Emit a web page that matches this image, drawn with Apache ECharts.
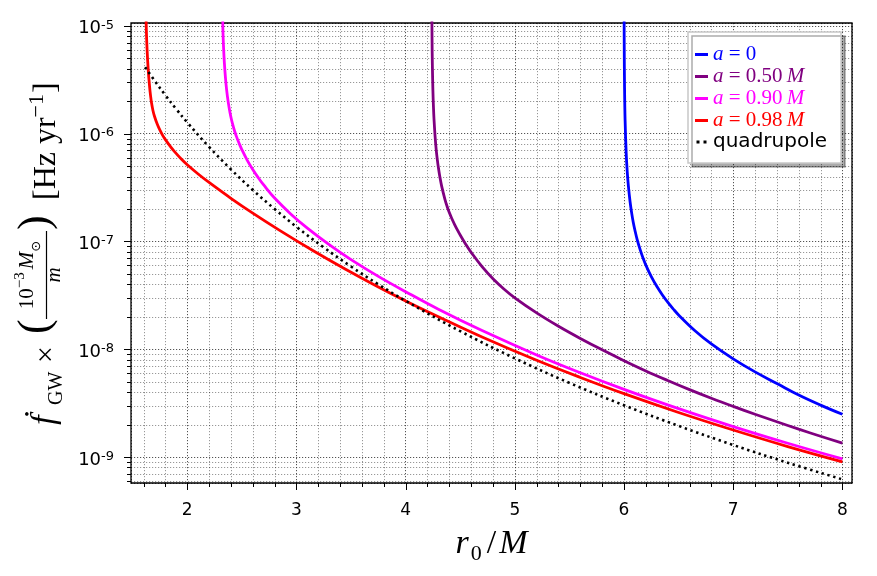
<!DOCTYPE html>
<html>
<head>
<meta charset="utf-8">
<title>fdot GW vs r0/M</title>
<script src="https://cdn.jsdelivr.net/npm/echarts@6/dist/echarts.min.js"></script>
<style>
  html, body { margin: 0; padding: 0; background: #fff; }
  #chart { width: 877px; height: 576px; }
</style>
</head>
<body>
<div id="chart"></div>
<script>
// values: r0/M positions and fdot (Hz/yr)
const rA0 = [6.001, 6.002, 6.005, 6.01, 6.02, 6.03, 6.04, 6.055, 6.07, 6.085, 6.1, 6.12, 6.15, 6.175, 6.2, 6.25,
  6.3, 6.35, 6.4, 6.45, 6.5, 6.65, 6.8, 7.0, 7.2, 7.4, 7.6, 7.8, 8.0];
const fA0 = [1.33e-5, 6.66e-6, 2.66e-6, 1.33e-6, 6.6e-7, 4.37e-7, 3.27e-7, 2.36e-7, 1.84e-7, 1.5e-7, 1.27e-7, 1.046e-7, 8.25e-8, 6.98e-8, 6.03e-8, 4.71e-8,
  3.83e-8, 3.2e-8, 2.73e-8, 2.37e-8, 2.08e-8, 1.485e-8, 1.12e-8, 8.14e-9, 6.16e-9, 4.81e-9, 3.76e-9, 3.03e-9, 2.49e-9];

const rA50 = [4.24, 4.242, 4.245, 4.25, 4.255, 4.26, 4.27, 4.28, 4.29, 4.3, 4.315, 4.33, 4.36, 4.38, 4.4, 4.425, 4.45, 4.475, 4.5, 4.55,
  4.6, 4.7, 4.8, 4.9, 5.0, 5.2, 5.4, 5.6, 5.8, 6.0, 6.2, 6.4, 6.6, 6.8, 7.0, 7.2, 7.4, 7.6, 7.8, 8.0];
const fA50 = [1.5e-5, 7.5e-6, 4.3e-6, 2.5e-6, 1.76e-6, 1.36e-6, 9.4e-7, 7.1e-7, 5.77e-7, 4.85e-7, 3.9e-7, 3.26e-7, 2.46e-7, 2.11e-7, 1.85e-7, 1.615e-7, 1.427e-7, 1.274e-7, 1.145e-7, 9.43e-8,
  7.92e-8, 5.83e-8, 4.505e-8, 3.62e-8, 2.997e-8, 2.172e-8, 1.632e-8, 1.258e-8, 9.86e-9, 7.83e-9, 6.29e-9, 5.13e-9, 4.22e-9, 3.51e-9, 2.949e-9, 2.493e-9, 2.122e-9, 1.814e-9, 1.559e-9, 1.345e-9];

const rA90 = [2.323, 2.325, 2.328, 2.333, 2.34, 2.35, 2.361, 2.375, 2.391, 2.405, 2.42, 2.435, 2.452, 2.475, 2.5, 2.55, 2.6, 2.65, 2.7, 2.8,
  2.95, 3.1, 3.3, 3.5, 3.75, 4.0, 4.3, 4.7, 5.2, 5.6, 6.0, 6.5, 7.0, 7.5, 8.0];
const fA90 = [2.0e-5, 1.12e-5, 8.35e-6, 6.19e-6, 4.56e-6, 3.3e-6, 2.53e-6, 1.968e-6, 1.578e-6, 1.352e-6, 1.178e-6, 1.047e-6, 9.33e-7, 8.13e-7, 7.12e-7, 5.655e-7, 4.65e-7, 3.91e-7, 3.34e-7, 2.525e-7,
  1.789e-7, 1.328e-7, 9.33e-8, 6.78e-8, 4.74e-8, 3.415e-8, 2.348e-8, 1.49e-8, 8.85e-9, 6.05e-9, 4.245e-9, 2.81e-9, 1.917e-9, 1.342e-9, 9.61e-10];

const rA98 = [1.618, 1.625, 1.632, 1.643, 1.655, 1.664, 1.674, 1.686, 1.7, 1.725, 1.75, 1.775, 1.8, 1.85, 1.9, 1.95, 2.0, 2.1, 2.2,
  2.4, 2.6, 2.85, 3.15, 3.45, 3.75, 4.0, 4.3, 4.7, 5.2, 5.6, 6.0, 6.5, 7.0, 7.5, 8.0];
const fA98 = [2.2e-5, 9.6e-6, 6.1e-6, 3.86e-6, 2.75e-6, 2.25e-6, 1.9e-6, 1.64e-6, 1.45e-6, 1.227e-6, 1.075e-6, 9.64e-7, 8.79e-7, 7.5e-7, 6.515e-7, 5.75e-7, 5.14e-7, 4.22e-7, 3.52e-7,
  2.51e-7, 1.83e-7, 1.26e-7, 8.24e-8, 5.52e-8, 3.78e-8, 2.805e-8, 2.0e-8, 1.297e-8, 7.89e-9, 5.47e-9, 3.87e-9, 2.59e-9, 1.78e-9, 1.25e-9, 9.02e-10];

const rQ = [1.614, 1.7, 1.8, 1.9, 2.0, 2.2, 2.4, 2.6, 2.8, 3.0, 3.25, 3.5, 3.75, 4.0, 4.5, 5.0, 5.5, 6.0, 6.5, 7.0, 7.5, 8.0];
const fQ = [4.13e-6, 3.11e-6, 2.27e-6, 1.685e-6, 1.27e-6, 7.52e-7, 4.66e-7, 3.0e-7, 2.0e-7, 1.366e-7, 8.8e-8, 5.85e-8, 4.0e-8, 2.81e-8, 1.47e-8, 8.23e-9, 4.87e-9, 3.02e-9, 1.945e-9, 1.293e-9, 8.85e-10, 6.2e-10];

const seriesNames = ['a = 0', 'a = 0.50 M', 'a = 0.90 M', 'a = 0.98 M', 'quadrupole'];
const spinLabels = ['0', '0.50', '0.90', '0.98'];
const colors = ['#0000ff', '#800080', '#ff00ff', '#ff0000', '#000000'];

// axis ticks
const xMajor = [2, 3, 4, 5, 6, 7, 8];
const xMinor = [1.6, 1.8, 2.2, 2.4, 2.6, 2.8, 3.2, 3.4, 3.6, 3.8, 4.2, 4.4, 4.6, 4.8,
  5.2, 5.4, 5.6, 5.8, 6.2, 6.4, 6.6, 6.8, 7.2, 7.4, 7.6, 7.8];
const yMajor = [1e-9, 1e-8, 1e-7, 1e-6, 1e-5];
const yMinorMant = [2, 3, 4, 5, 6, 7, 8, 9];
const yDecades = [1e-10, 1e-9, 1e-8, 1e-7, 1e-6];

const xMin = 1.485, xMax = 8.088;
const yMin = 5.74e-10, yMax = 1.062e-5;

const yMinor = [];
yDecades.forEach(d => yMinorMant.forEach(m => {
  const v = m * d;
  if (v > yMin && v < yMax) yMinor.push(v);
}));

const serif = 'Liberation Serif, DejaVu Serif, serif';
const sans = 'DejaVu Sans, sans-serif';

const pairs = (xs, ys) => xs.map((x, i) => [x, ys[i]]);

const minorGrid = () => ({ stroke: 'rgba(0,0,0,0.45)', lineWidth: 0.9, lineDash: [1.2, 1.8] });
const tickLine = () => ({ stroke: '#000', lineWidth: 1 });

function renderXTick(params, api) {
  const cs = params.coordSys;
  const px = Math.round(api.coord([api.value(0), yMin])[0]) + 0.5;
  const major = api.value(2) === 1;
  const bottom = cs.y + cs.height;
  const kids = [{ type: 'line', shape: { x1: px, y1: bottom, x2: px, y2: bottom + (major ? 7 : 4) }, style: tickLine() }];
  if (!major) kids.push({ type: 'line', shape: { x1: px, y1: cs.y, x2: px, y2: bottom }, style: minorGrid() });
  return { type: 'group', children: kids };
}

function renderYTick(params, api) {
  const cs = params.coordSys;
  const py = Math.round(api.coord([xMin, api.value(1)])[1]) + 0.5;
  const major = api.value(2) === 1;
  const kids = [{ type: 'line', shape: { x1: cs.x - (major ? 7 : 4), y1: py, x2: cs.x, y2: py }, style: tickLine() }];
  if (!major) kids.push({ type: 'line', shape: { x1: cs.x, y1: py, x2: cs.x + cs.width, y2: py }, style: minorGrid() });
  return { type: 'group', children: kids };
}

const legendRich = { q: { fontFamily: sans, fontSize: 20, lineHeight: 20, color: '#000' } };
spinLabels.forEach((s, i) => {
  legendRich['i' + i] = { fontFamily: serif, fontStyle: 'italic', fontSize: 21, lineHeight: 20, color: colors[i] };
  legendRich['t' + i] = { fontFamily: serif, fontSize: 21, lineHeight: 20, color: colors[i] };
});

const lineSeries = [
  [rA0, fA0], [rA50, fA50], [rA90, fA90], [rA98, fA98], [rQ, fQ]
].map(([xs, ys], i) => ({
  name: seriesNames[i],
  type: 'line',
  data: pairs(xs, ys),
  showSymbol: false,
  symbol: 'none',
  smooth: 0.4,
  clip: true,
  z: 3,
  lineStyle: i === 4
    ? { color: '#000', width: 2.6, type: [2.4, 3.6] }
    : { color: colors[i], width: 2.8 },
  itemStyle: { color: colors[i] }
}));

function txt(x, y, text, size, extra) {
  return {
    type: 'text', x: x, y: y,
    style: Object.assign({
      text: text, fontSize: size, fontFamily: serif, fill: '#000',
      align: 'left', verticalAlign: 'middle', textAlign: 'left', textVerticalAlign: 'middle'
    }, extra || {})
  };
}

const chart = echarts.init(document.getElementById('chart'));

chart.setOption({
  animation: false,
  backgroundColor: '#fff',
  grid: { left: 131, top: 23, right: 25, bottom: 93, show: true, borderColor: '#000', borderWidth: 1.3, backgroundColor: 'transparent' },
  xAxis: {
    type: 'value', min: xMin, max: xMax,
    axisLine: { show: false }, axisTick: { show: false },
    splitLine: { show: true, lineStyle: { color: 'rgba(0,0,0,0.75)', width: 0.9, type: [1.2, 1.8] } },
    axisLabel: { showMinLabel: false, showMaxLabel: false, margin: 19, fontSize: 17, fontFamily: sans, color: '#000' },
    name: '{i|r}{s|0}{n|/}{m|M}',
    nameLocation: 'middle', nameGap: 40,
    nameTextStyle: {
      rich: {
        i: { fontFamily: serif, fontStyle: 'italic', fontSize: 34, lineHeight: 42, color: '#000', padding: [0, 2, 0, 0] },
        s: { fontFamily: serif, fontSize: 22, lineHeight: 22, verticalAlign: 'bottom', color: '#000', padding: [0, 4, 0, 0] },
        n: { fontFamily: serif, fontSize: 34, lineHeight: 42, color: '#000', padding: [0, 3, 0, 1] },
        m: { fontFamily: serif, fontStyle: 'italic', fontSize: 34, lineHeight: 42, color: '#000' }
      }
    }
  },
  yAxis: {
    type: 'log', logBase: 10, min: yMin, max: yMax,
    axisLine: { show: false }, axisTick: { show: false },
    splitLine: { show: true, lineStyle: { color: 'rgba(0,0,0,0.75)', width: 0.9, type: [1.2, 1.8] } },
    axisLabel: {
      showMinLabel: false, showMaxLabel: false, margin: 17, padding: [6, 0, 0, 0],
      formatter: v => '{b|10}{s|' + Math.round(Math.log10(v)) + '}',
      rich: {
        b: { fontFamily: sans, fontSize: 18, lineHeight: 20, color: '#000' },
        s: { fontFamily: sans, fontSize: 13, lineHeight: 13, verticalAlign: 'top', color: '#000' }
      }
    }
  },
  legend: {
    orient: 'vertical', left: 688, top: 32,
    padding: [12, 14, 11, 7], itemGap: 1,
    itemWidth: 13, itemHeight: 3,
    selectedMode: false,
    backgroundColor: '#fff', borderColor: '#c8c8c8', borderWidth: 1.5, borderRadius: 0,
    shadowColor: 'rgba(0,0,0,0.33)', shadowBlur: 0, shadowOffsetX: 4, shadowOffsetY: 4,
    data: seriesNames.map((n, i) => ({
      name: n,
      icon: i === 4 ? 'path://M0,0h3v3h-3zM7,0h3v3h-3z' : 'rect',
      itemStyle: { color: colors[i] },
      textStyle: { color: colors[i] }
    })),
    formatter: name => {
      const i = seriesNames.indexOf(name);
      if (i === 4) return '{q|quadrupole}';
      let s = '{i' + i + '|a}{t' + i + '| = ' + spinLabels[i] + '}';
      if (i > 0) s += '{t' + i + '|\u2009}{i' + i + '|M}';
      return s;
    },
    textStyle: { rich: legendRich }
  },
  graphic: [{
    type: 'group', x: 57, y: 433, rotation: Math.PI / 2,
    children: [
      txt(8, -11.5, '\u1E1F', 34, { fontStyle: 'italic' }),
      txt(28, -0.75, 'GW', 20),
      txt(70, -10.1, '\u00D7', 30),
      txt(99, -20.7, '(', 44),
      {
        type: 'text', x: 158, y: -29.1,
        style: {
          text: '{n|10}{sp|\u22123}{mi|M}{sb|\u2299}',
          align: 'center', verticalAlign: 'middle', textAlign: 'center', textVerticalAlign: 'middle',
          rich: {
            n: { fontFamily: serif, fontSize: 21, lineHeight: 30, fill: '#000' },
            sp: { fontFamily: serif, fontSize: 15, lineHeight: 15, verticalAlign: 'top', fill: '#000', padding: [0, 3, 0, 0] },
            mi: { fontFamily: serif, fontStyle: 'italic', fontSize: 21, lineHeight: 30, fill: '#000' },
            sb: { fontFamily: sans, fontSize: 13, lineHeight: 15, verticalAlign: 'bottom', fill: '#000' }
          }
        }
      },
      { type: 'line', shape: { x1: 114, y1: -10.5, x2: 202, y2: -10.5 }, style: { stroke: '#000', lineWidth: 1.2 } },
      txt(158, -2.1, 'm', 21, { fontStyle: 'italic', align: 'center', textAlign: 'center' }),
      txt(203, -20.7, ')', 44),
      {
        type: 'text', x: 233, y: -10.5,
        style: {
          text: '{m|[Hz yr}{sp|\u22121}{m|]}',
          align: 'left', verticalAlign: 'middle', textAlign: 'left', textVerticalAlign: 'middle',
          rich: {
            m: { fontFamily: serif, fontSize: 32, lineHeight: 40, fill: '#000' },
            sp: { fontFamily: serif, fontSize: 22, lineHeight: 22, verticalAlign: 'top', fill: '#000', padding: [0, 1, 0, 0] }
          }
        }
      }
    ]
  }],
  series: lineSeries.concat([
    {
      name: 'xticks', type: 'custom', silent: true, z: 1,
      renderItem: renderXTick,
      data: xMajor.map(v => [v, yMin, 1]).concat(xMinor.map(v => [v, yMin, 0]))
    },
    {
      name: 'yticks', type: 'custom', silent: true, z: 1,
      renderItem: renderYTick,
      data: yMajor.map(v => [xMin, v, 1]).concat(yMinor.map(v => [xMin, v, 0]))
    }
  ])
});
</script>
</body>
</html>
